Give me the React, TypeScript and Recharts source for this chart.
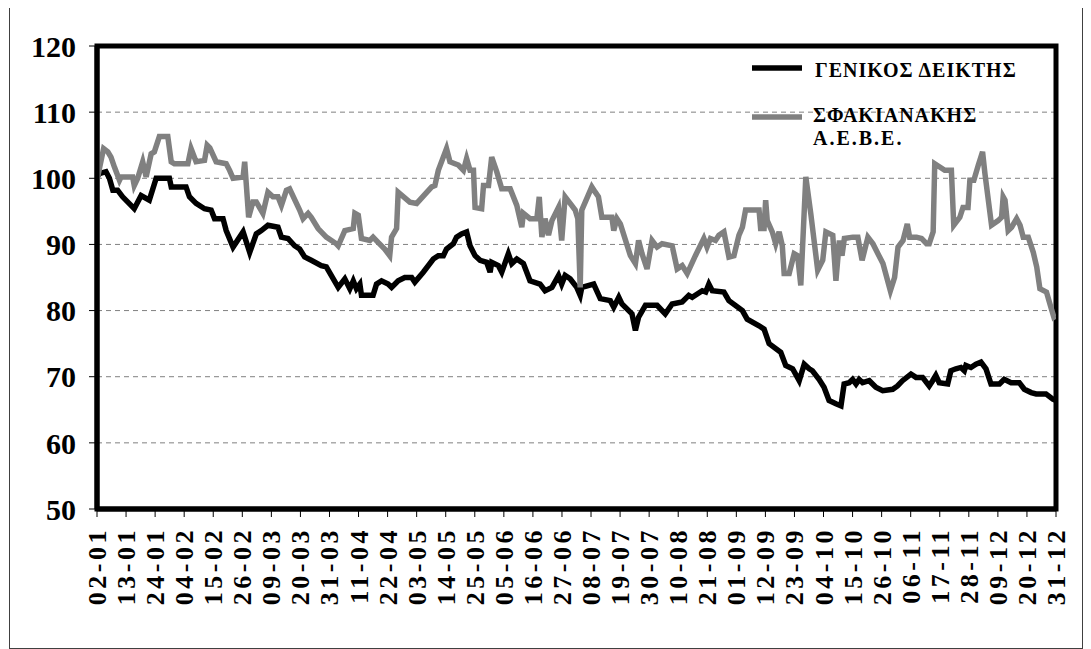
import { LineChart, Line, XAxis, YAxis, CartesianGrid, ReferenceArea, Legend } from "recharts"

const FONT = "'Liberation Serif', 'Times New Roman', serif"

// x axis labels, every 11 days (dd-mm)
const tickLabels = [
  "02-01", "13-01", "24-01", "04-02", "15-02", "26-02", "09-03", "20-03", "31-03", "11-04", "22-04", "03-05",
  "14-05", "25-05", "05-06", "16-06", "27-06", "08-07", "19-07", "30-07", "10-08", "21-08", "01-09", "12-09",
  "23-09", "04-10", "15-10", "26-10", "06-11", "17-11", "28-11", "09-12", "20-12", "31-12",
]

const yTicks = [50, 60, 70, 80, 90, 100, 110, 120]

// day of year of each point
const generalDays = [
  2, 2.9, 5.4, 6.7, 8, 9.8, 11.7, 16.1, 18.7, 21.8, 24.4,
  28.2, 29.4, 30.1, 35.7, 37, 39.5, 42.7, 45.2, 46.5, 49.7,
  50.9, 53.5, 57.3, 59.8, 62.3, 64.2, 66.7, 70.5, 71.8, 74.3,
  76.8, 78.7, 80.6, 83.1, 86.9, 88.8, 93.3, 95.8, 97.7, 99,
  100.2, 101.5, 102.1, 106.5, 107.8, 109.7, 112.2, 113.5, 116, 118.5,
  121.1, 122.3, 125.5, 129.3, 131.2, 133.1, 134.3, 136.9, 138.1, 140,
  141.9, 143.2, 145.1, 147, 149.5, 150.8, 151.4, 153.9, 155.2, 157.7,
  159, 160.9, 163.4, 165.9, 169.7, 171.6, 174.2, 176.7, 177.9, 179.2,
  181.1, 183.6, 184.9, 185.5, 190, 192.5, 196.3, 197.6, 199.5, 200.7,
  204.5, 205.8, 207, 209.6, 214, 217.1, 219.7, 223.5, 226, 227.3,
  231.1, 232.4, 233.6, 234.9, 239.3, 241.2, 246.3, 248.1, 252.6, 254.5,
  256.4, 260.8, 262.7, 265.3, 267.8, 269.7, 271.6, 272.8, 275.3, 277.2,
  279.1, 281.7, 283.6, 284.8, 286.7, 288, 289.3, 290.5, 291.8, 294.3,
  296.8, 299.4, 303.2, 305, 306.9, 310.1, 312, 314.5, 317, 318.3,
  319.5, 320.8, 324, 325.2, 327.1, 329, 330.3, 330.9, 332.8, 334.7,
  336.6, 338.5, 340.4, 343.6, 345.4, 348, 351.1, 353, 355.6, 357.5,
  361.2, 363.8, 365,
]
const generalValues = [
  100.2, 100.7, 101.0, 100.0, 98.2, 98.2, 97.2, 95.4, 97.4, 96.7, 100.0,
  100.0, 100.0, 98.7, 98.7, 97.2, 96.2, 95.4, 95.2, 93.9, 93.9,
  92.1, 89.6, 91.9, 88.8, 91.6, 92.1, 92.9, 92.6, 91.1, 90.9,
  89.8, 89.3, 88.1, 87.6, 86.8, 86.6, 83.5, 84.8, 83.3, 84.5,
  83.3, 84.0, 82.3, 82.3, 84.0, 84.5, 84.0, 83.5, 84.5, 85.0,
  85.0, 84.3, 85.8, 87.8, 88.3, 88.3, 89.3, 90.1, 91.1, 91.6,
  91.9, 89.8, 88.3, 87.6, 87.3, 85.8, 87.3, 86.8, 85.8, 88.6,
  87.1, 87.8, 87.1, 84.5, 84.0, 83.0, 83.5, 85.3, 84.0, 85.3,
  84.8, 83.5, 82.3, 83.5, 84.0, 81.8, 81.5, 80.5, 82.0, 81.0,
  79.5, 77.0, 79.0, 80.8, 80.8, 79.5, 81.0, 81.3, 82.3, 82.0,
  83.0, 82.8, 84.0, 83.0, 82.8, 81.5, 80.0, 78.7, 77.7, 77.2,
  75.0, 73.7, 71.7, 71.2, 69.4, 71.9, 71.2, 70.9, 69.6, 68.4,
  66.4, 65.9, 65.6, 68.9, 69.1, 69.6, 68.9, 69.6, 69.1, 69.4,
  68.4, 67.9, 68.1, 68.6, 69.4, 70.4, 69.9, 69.9, 68.6, 69.4,
  70.2, 69.1, 68.9, 70.9, 71.2, 71.4, 70.9, 71.7, 71.4, 71.9,
  72.2, 71.2, 68.9, 68.9, 69.6, 69.1, 69.1, 68.1, 67.6, 67.4,
  67.4, 66.6, 66.4,
]

const sfakDays = [
  2, 4.5, 6.1, 7.3, 8.6, 10.5, 11.1, 15.5, 16.1, 17.4,
  19.3, 20.6, 22.5, 23.7, 25.6, 28.8, 30.1, 31.3, 36.4, 37.6,
  39.5, 42.7, 43.7, 44.7, 47.1, 50.9, 52.2, 53.5, 57.3, 57.9,
  59.4, 61, 62.3, 64.8, 66.7, 68.6, 70.5, 71.8, 73.7, 74.9,
  78.7, 80, 81.9, 83.1, 85.7, 88.8, 92.6, 93.3, 95.8, 99,
  99.6, 100.9, 102.1, 105.3, 106.5, 108.4, 110.9, 112.8, 113.5, 115.4,
  116, 120.4, 123, 128.7, 129.9, 131.2, 134.3, 135.6, 137.5, 138.8,
  140.7, 141.9, 143.2, 144.5, 145.1, 147.6, 148.3, 150.2, 151.4, 153.3,
  155.2, 158.4, 160.9, 162.8, 163.4, 165.9, 168.5, 169.4, 170.4, 171.6,
  172.9, 174.2, 176.7, 177.9, 179.2, 181.1, 183, 184, 184.9, 185.5,
  189.3, 190.6, 191.8, 193.1, 196.9, 197.6, 198.8, 200.1, 203.9, 205.8,
  207, 208.3, 210.2, 212.1, 214, 215.9, 219.7, 221.6, 223.5, 225.4,
  228.5, 231.7, 232.9, 234.2, 236.1, 237.4, 239.3, 241.2, 243.1, 245,
  246.3, 247.5, 252.6, 253.2, 254.5, 255.1, 255.7, 257.6, 258.9, 260.2,
  261.4, 262.1, 264, 265.9, 267.2, 268.4, 270.3, 272.2, 274.8, 276.7,
  277.9, 280.5, 281.7, 283, 284, 284.9, 288.1, 290, 291.6, 293.8,
  295.7, 297.6, 299.5, 302.3, 303.9, 305.2, 307.1, 308.7, 309.6, 312.2,
  314.1, 316, 317, 318.5, 319.1, 321, 322.9, 325.4, 326.3, 328.6,
  329.8, 331.7, 332.4, 333.9, 335.6, 337.2, 338.1, 340.6, 343.1, 344.4,
  345, 345.7, 346.9, 348.2, 350.1, 351.4, 352.6, 354.5, 356.4, 357.7,
  358.9, 361.4, 362.7, 364.2, 365,
]
const sfakValues = [
  99.7, 104.5, 104.0, 103.2, 101.7, 99.7, 100.2, 100.2, 98.9, 100.0,
  102.5, 100.2, 103.7, 104.0, 106.3, 106.3, 102.5, 102.2, 102.2, 104.5,
  102.5, 102.7, 105.0, 104.6, 102.5, 102.2, 101.2, 100.0, 100.2, 102.5,
  94.1, 96.4, 96.4, 94.7, 97.9, 97.2, 97.2, 95.9, 98.2, 98.4,
  95.2, 93.9, 94.7, 94.1, 92.4, 91.1, 90.1, 89.8, 92.1, 92.4,
  94.7, 94.4, 90.9, 90.6, 91.1, 90.3, 89.3, 88.3, 91.1, 92.4,
  97.9, 96.4, 96.2, 98.7, 98.9, 101.2, 104.5, 102.5, 102.2, 102.0,
  101.2, 103.0, 101.2, 101.2, 95.6, 95.4, 98.9, 98.9, 103.2, 101.0,
  98.4, 98.4, 95.9, 92.6, 94.7, 93.9, 93.9, 97.2, 91.1, 93.9,
  91.4, 93.6, 95.6, 90.6, 97.2, 96.2, 95.2, 93.9, 83.5, 95.2,
  98.7, 97.9, 97.2, 94.1, 94.1, 92.1, 93.9, 93.1, 88.3, 87.1,
  90.6, 88.6, 86.3, 90.6, 89.6, 90.1, 89.8, 86.3, 86.8, 85.6,
  88.3, 90.9, 89.6, 90.9, 90.6, 91.4, 91.9, 88.1, 88.3, 91.4,
  92.6, 95.2, 95.2, 92.4, 92.4, 96.7, 93.6, 91.9, 90.1, 91.9,
  89.8, 85.6, 85.6, 88.6, 88.3, 83.8, 100.2, 94.6, 86.1, 87.6,
  91.9, 91.4, 84.5, 90.6, 88.3, 90.9, 91.1, 91.1, 87.6, 91.1,
  90.1, 88.6, 87.1, 83.0, 85.0, 89.6, 90.6, 93.1, 91.1, 91.1,
  90.9, 90.1, 90.1, 91.9, 102.2, 101.7, 101.2, 101.2, 92.9, 94.1,
  95.6, 95.6, 99.7, 99.7, 102.0, 104.0, 100.7, 92.9, 93.6, 94.1,
  97.2, 96.7, 92.1, 92.6, 93.9, 92.9, 91.1, 91.1, 88.8, 86.6,
  83.3, 82.8, 81.0, 79.0, 79.2,
]

const monthDays = [31, 28, 31, 30, 31, 30, 31, 31, 30, 31, 30, 31]
const dayOfYear = (label: string) => {
  const [d, m] = label.split("-").map(Number)
  let n = d
  for (let i = 0; i < m - 1; i++) n += monthDays[i]
  return n
}
const xTicks = tickLabels.map(dayOfYear)
const labelByDay: Record<number, string> = {}
tickLabels.forEach((l) => (labelByDay[dayOfYear(l)] = l))

const generalData = generalDays.map((day, i) => ({ day, value: generalValues[i] }))
const sfakData = sfakDays.map((day, i) => ({ day, value: sfakValues[i] }))

function XTick({ x, y, payload }: any) {
  return (
    <text
      x={x}
      y={y}
      transform={`rotate(-90, ${x}, ${y})`}
      textAnchor="end"
      dy={9}
      fontSize={26}
      fontWeight="bold"
      letterSpacing={3.5}
      fontFamily={FONT}
      fill="#000"
    >
      {labelByDay[payload.value]}
    </text>
  )
}

function LegendBox() {
  return (
    <svg width={330} height={100} style={{ display: "block" }} fontFamily={FONT} fontWeight="bold" fill="#000">
      <line x1={2} x2={52} y1={15} y2={15} stroke="#000" strokeWidth={5.5} />
      <text x={65} y={24} fontSize={20} letterSpacing={1}>
        ΓΕΝΙΚΟΣ ΔΕΙΚΤΗΣ
      </text>
      <line x1={2} x2={52} y1={64} y2={64} stroke="#808080" strokeWidth={5.5} />
      <text x={63} y={69} fontSize={20} letterSpacing={1}>
        ΣΦΑΚΙΑΝΑΚΗΣ
      </text>
      <text x={63} y={92} fontSize={20} letterSpacing={2}>
        Α.Ε.Β.Ε.
      </text>
    </svg>
  )
}

export default function App() {
  return (
    <div style={{ width: 1072, height: 640, border: "1px solid #404040", marginLeft: 1, marginTop: -1 }}>
      <LineChart width={1070} height={636} margin={{ top: 38, right: 24, left: 27, bottom: 0 }}>
        <CartesianGrid vertical={false} stroke="#808080" strokeDasharray="5 4" />
        <XAxis
          type="number"
          dataKey="day"
          domain={[2, 365]}
          ticks={xTicks}
          interval={0}
          height={135}
          tick={<XTick />}
          tickSize={8}
          tickMargin={10}
          tickLine={{ stroke: "#000", strokeWidth: 1 }}
          axisLine={{ stroke: "#000", strokeWidth: 5 }}
          allowDataOverflow
        />
        <YAxis
          type="number"
          domain={[50, 120]}
          ticks={yTicks}
          interval={0}
          width={60}
          tickSize={8}
          tickMargin={13}
          tick={{ fontSize: 30, fontWeight: "bold", fontFamily: FONT, fill: "#000" }}
          tickLine={{ stroke: "#000", strokeWidth: 1 }}
          axisLine={{ stroke: "#000", strokeWidth: 5 }}
        />
        <ReferenceArea x1={2} x2={365} y1={50} y2={120} fill="none" stroke="#000" strokeWidth={5} />
        <Line
          data={generalData}
          dataKey="value"
          name="ΓΕΝΙΚΟΣ ΔΕΙΚΤΗΣ"
          stroke="#000"
          strokeWidth={5.5}
          dot={false}
          activeDot={false}
          isAnimationActive={false}
        />
        <Line
          data={sfakData}
          dataKey="value"
          name="ΣΦΑΚΙΑΝΑΚΗΣ Α.Ε.Β.Ε."
          stroke="#808080"
          strokeWidth={5.5}
          dot={false}
          activeDot={false}
          isAnimationActive={false}
        />
        <Legend
          layout="vertical"
          align="center"
          verticalAlign="middle"
          content={<LegendBox />}
          wrapperStyle={{ left: 740, top: 45, width: 330, height: 100 }}
        />
      </LineChart>
    </div>
  )
}
